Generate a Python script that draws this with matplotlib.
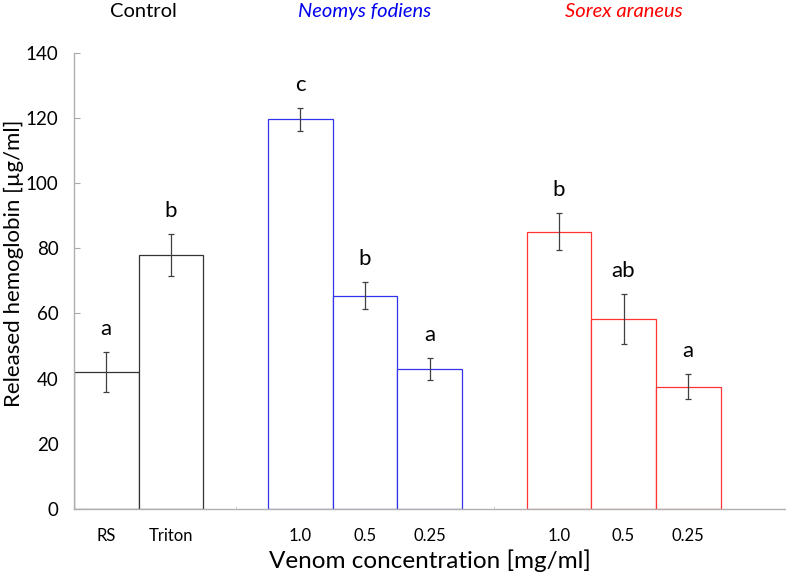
import matplotlib
matplotlib.use("Agg")
import matplotlib.pyplot as plt

plt.rcParams['font.family'] = ['Lato', 'DejaVu Sans']

labels = ["RS", "Triton", "1.0", "0.5", "0.25", "1.0", "0.5", "0.25"]
positions = [0, 1, 3, 4, 5, 7, 8, 9]
values = [42.1, 78.0, 119.6, 65.5, 43.0, 85.1, 58.3, 37.5]
errors = [6.1, 6.5, 3.6, 4.2, 3.4, 5.7, 7.8, 3.8]
letters = ["a", "b", "c", "b", "a", "b", "ab", "a"]
groups = ["Control", "Neomys fodiens", "Sorex araneus"]
group_pos = [0.57, 4, 8]
group_colors = ["black", "#0000ee", "#ff0000"]
group_styles = ["normal", "italic", "italic"]
edge_colors = ["#333333", "#333333", "#3333ee", "#3333ee", "#3333ee",
               "#ff3333", "#ff3333", "#ff3333"]

fig = plt.figure(figsize=(7.86, 5.75), dpi=100)
ax = fig.add_axes([0.094, 0.115, 0.905, 0.793])

ax.bar(positions, values, width=1.0, color="white", edgecolor=edge_colors,
       linewidth=0.9, zorder=2)
ax.errorbar(positions, values, yerr=errors, fmt="none", ecolor="#404040",
            elinewidth=0.9, capsize=2.5, capthick=0.9, zorder=3)
for p, v, e, l in zip(positions, values, errors, letters):
    ax.text(p, v + e + 4.0, l, ha="center", va="bottom", fontsize=16, color="black")

ax.set_xlim(-0.5, 10.5)
ax.set_ylim(0, 140)
ax.set_yticks(range(0, 141, 20))
ax.tick_params(axis="y", direction="in", length=4, color="#aaaaaa", labelsize=13.5, pad=11)
ax.set_xticks(positions)
ax.set_xticklabels(labels)
ax.tick_params(axis="x", length=0, labelsize=12, pad=14)
ax.set_xticks([2, 6], minor=True)
ax.tick_params(axis="x", which="minor", direction="in", length=2, color="#cccccc")

for s in ["top", "right"]:
    ax.spines[s].set_visible(False)
for s in ["left", "bottom"]:
    ax.spines[s].set_color("#b0b0b0")
    ax.spines[s].set_linewidth(1.0)

fig.text(14 / 786, 1 - 263 / 575, "Released hemoglobin [µg/ml]", rotation=90,
         ha="center", va="center", fontsize=16)
ax.set_xlabel("Venom concentration [mg/ml]", fontsize=17.5, labelpad=4)

for g, gp, gc, gs in zip(groups, group_pos, group_colors, group_styles):
    ax.text(gp, 1.09, g, transform=ax.get_xaxis_transform(), ha="center",
            va="center", fontsize=14.5, color=gc, style=gs)

fig.savefig("out.png", dpi=100)
